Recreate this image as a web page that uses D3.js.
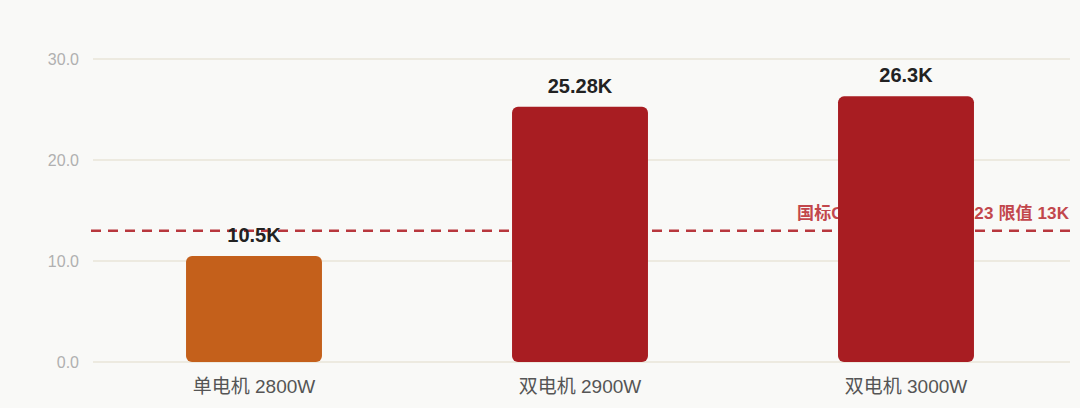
<!DOCTYPE html>
<html>
<head>
<meta charset="utf-8">
<script src="https://cdn.jsdelivr.net/npm/d3@7"></script>
<style>
  html, body { margin: 0; padding: 0; background: #f9f9f7; }
  svg { display: block; }
</style>
</head>
<body>
<div id="chart"></div>
<script>
// Chart data
const categories = ["单电机 2800W", "双电机 2900W", "双电机 3000W"];
const values = [10.5, 25.28, 26.3];
const valueLabels = ["10.5K", "25.28K", "26.3K"];
const barColors = ["#c4601b", "#a81d22", "#a81d22"];
const yTicks = [0, 10, 20, 30];
const limitValue = 13;
const limitLabel = "国标GB/T 4706.124-2023 限值 13K";

const width = 1080, height = 408;
const margin = { top: 59, right: 11, bottom: 46, left: 91 };

const svg = d3.select("#chart").append("svg")
    .attr("width", width)
    .attr("height", height)
    .style("background", "#f9f9f7");

let x = d3.scaleBand()
    .domain(categories)
    .range([margin.left, width - margin.right])
    .paddingInner(0.583)
    .paddingOuter(0.2915);

let y = d3.scaleLinear()
    .domain([0, 30])
    .range([height - margin.bottom, margin.top]);

// grid lines
svg.append("g")
    .selectAll("line")
    .data(yTicks)
    .enter().append("line")
    .attr("x1", 93)
    .attr("x2", 1070)
    .attr("y1", d => y(d))
    .attr("y2", d => y(d))
    .attr("stroke", "#e8e4d9")
    .attr("stroke-width", 1.5);

// y axis labels
svg.append("g")
    .selectAll("text")
    .data(yTicks)
    .enter().append("text")
    .attr("x", 79)
    .attr("y", d => y(d))
    .attr("dy", "0.35em")
    .attr("text-anchor", "end")
    .attr("font-family", "'Liberation Sans', Arial, sans-serif")
    .attr("font-size", 16)
    .attr("fill", "#b0b0b0")
    .text(d => d3.format(".1f")(d));

// limit line + label (label sits behind the bars)
svg.append("line")
    .attr("x1", 91)
    .attr("x2", 1072)
    .attr("y1", y(limitValue))
    .attr("y2", y(limitValue))
    .attr("stroke", "#b8373d")
    .attr("stroke-width", 2.5)
    .attr("stroke-dasharray", "10,7");

let limitText = svg.append("text")
    .attr("x", 797)
    .attr("y", y(limitValue) - 12)
    .attr("font-family", "'Liberation Sans', 'Noto Sans CJK SC', sans-serif")
    .attr("font-weight", "bold")
    .attr("font-size", 17)
    .attr("fill", "#c2474c")
    .text(limitLabel);

// stretch label so it runs from 797 to 1069 like the original
let textW = limitText.node().getComputedTextLength();
let spacing = (1069 - 797 - textW) / (limitLabel.length - 1);
limitText.attr("letter-spacing", spacing);

// bars
svg.append("g")
    .selectAll("rect")
    .data(values)
    .enter().append("rect")
    .attr("x", (d, i) => x(categories[i]))
    .attr("y", d => y(d))
    .attr("width", x.bandwidth())
    .attr("height", d => y(0) - y(d))
    .attr("rx", 6)
    .attr("ry", 6)
    .attr("fill", (d, i) => barColors[i]);

// value labels
svg.append("g")
    .selectAll("text")
    .data(values)
    .enter().append("text")
    .attr("x", (d, i) => x(categories[i]) + x.bandwidth() / 2)
    .attr("y", d => y(d) - 14)
    .attr("text-anchor", "middle")
    .attr("font-family", "'Liberation Sans', Arial, sans-serif")
    .attr("font-weight", "bold")
    .attr("font-size", 20)
    .attr("fill", "#222")
    .text((d, i) => valueLabels[i]);

// category labels
svg.append("g")
    .selectAll("text")
    .data(categories)
    .enter().append("text")
    .attr("x", d => x(d) + x.bandwidth() / 2)
    .attr("y", 386)
    .attr("dy", "0.35em")
    .attr("text-anchor", "middle")
    .attr("font-family", "'Liberation Sans', 'Noto Sans CJK SC', sans-serif")
    .attr("font-size", 19)
    .attr("fill", "#555")
    .text(d => d);
</script>
</body>
</html>
